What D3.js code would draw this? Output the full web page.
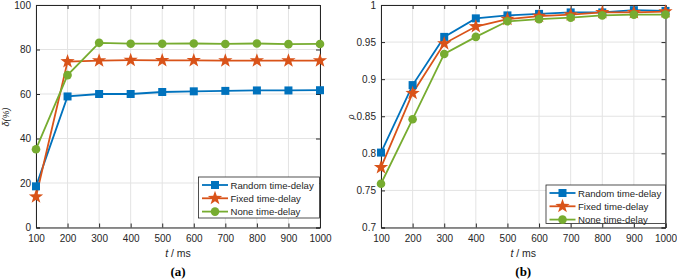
<!DOCTYPE html>
<html>
<head>
<meta charset="utf-8">
<script src="https://cdn.jsdelivr.net/npm/d3@7"></script>
<style>
body{margin:0;background:#fff;}
text{font-family:"Liberation Sans",Arial,sans-serif;}
</style>
</head>
<body>
<div class="content"></div>
<script>
const WIDTH = 677, HEIGHT = 279;

const times = [100,200,300,400,500,600,700,800,900,1000];
const seriesNames = ["Random time-delay","Fixed time-delay","None time-delay"];
const seriesColors = ["#0072BD","#D95319","#77AC30"];

// panel (a): delta (%)
const deltaRandom = [18.5,58.9,60,60,60.9,61.2,61.4,61.6,61.6,61.7];
const deltaFixed  = [13.8,74.6,75,75.2,75.1,75.1,75,75,75,75];
const deltaNone   = [35.2,68.5,83,82.6,82.6,82.7,82.5,82.7,82.4,82.5];
const deltaTicks  = [0,20,40,60,80,100];

// panel (b): rho
const rhoRandom = [0.801,0.892,0.957,0.982,0.986,0.988,0.990,0.990,0.993,0.992];
const rhoFixed  = [0.781,0.881,0.948,0.971,0.981,0.985,0.987,0.990,0.990,0.991];
const rhoNone   = [0.759,0.846,0.934,0.957,0.978,0.981,0.983,0.986,0.987,0.987];
const rhoTicks  = [0.7,0.75,0.8,0.85,0.9,0.95,1];

const svg = d3.select(".content").append("svg").attr("width", WIDTH).attr("height", HEIGHT);

function starPath(r){
	let pts = [];
	for(let i=0;i<10;i++){
		let a = -Math.PI/2 + i*Math.PI/5;
		let rr = i%2===0 ? r : r*0.4;
		pts.push([rr*Math.cos(a), rr*Math.sin(a)]);
	}
	return "M" + pts.map(p=>p.join(",")).join("L") + "Z";
}

function drawMarker(g, idx, x, y){
	if(idx===0){
		g.append("rect").attr("x",x-4).attr("y",y-4).attr("width",8).attr("height",8).attr("fill",seriesColors[0]);
	} else if(idx===1){
		g.append("path").attr("d",starPath(7.5)).attr("transform",`translate(${x},${y})`).attr("fill",seriesColors[1]);
	} else {
		g.append("circle").attr("cx",x).attr("cy",y).attr("r",4.3).attr("fill",seriesColors[2]);
	}
}

function drawPanel(opt){
	const g = svg.append("g");
	const x = d3.scaleLinear().domain([100,1000]).range([opt.left, opt.right]);
	const y = d3.scaleLinear().domain(opt.domain).range([opt.bottom, opt.top]);

	// grid
	g.append("g").selectAll("line").data(times).join("line")
		.attr("x1",d=>x(d)).attr("x2",d=>x(d)).attr("y1",opt.top).attr("y2",opt.bottom)
		.attr("stroke","#e3e3e3").attr("stroke-width",1);
	g.append("g").selectAll("line").data(opt.ticks).join("line")
		.attr("x1",opt.left).attr("x2",opt.right).attr("y1",d=>y(d)).attr("y2",d=>y(d))
		.attr("stroke","#e3e3e3").attr("stroke-width",1);

	// axes
	const xaxis = d3.axisBottom(x).tickValues(times).tickSize(-4).tickPadding(7).tickFormat(d3.format("d"));
	const yaxis = d3.axisLeft(y).tickValues(opt.ticks).tickSize(-4).tickPadding(5).tickFormat(opt.fmt);
	const xg = g.append("g").attr("transform",`translate(0,${opt.bottom})`).call(xaxis);
	const yg = g.append("g").attr("transform",`translate(${opt.left},0)`).call(yaxis);
	const xg2 = g.append("g").attr("transform",`translate(0,${opt.top})`).call(d3.axisTop(x).tickValues(times).tickSize(-4).tickFormat(""));
	const yg2 = g.append("g").attr("transform",`translate(${opt.right},0)`).call(d3.axisRight(y).tickValues(opt.ticks).tickSize(-4).tickFormat(""));
	[xg,yg,xg2,yg2].forEach(a=>{
		a.select(".domain").attr("stroke","#262626");
		a.selectAll(".tick line").attr("stroke","#262626");
		a.selectAll("text").attr("fill","#262626").style("font-size","10px").style("font-family","Liberation Sans, Arial, sans-serif");
	});

	// lines + markers
	opt.series.forEach((vals, i) => {
		const line = d3.line().x((d,j)=>x(times[j])).y(d=>y(d));
		g.append("path").attr("d", line(vals)).attr("fill","none")
			.attr("stroke",seriesColors[i]).attr("stroke-width",1.8);
	});
	opt.series.forEach((vals, i) => {
		const mg = g.append("g");
		vals.forEach((v,j)=>drawMarker(mg, i, x(times[j]), y(v)));
	});

	// legend
	const lg = g.append("g");
	lg.append("rect").attr("x",opt.legend[0]).attr("y",opt.legend[1]).attr("width",opt.legend[2]).attr("height",opt.legend[3])
		.attr("fill","#fff").attr("stroke","#262626").attr("stroke-width",0.8);
	seriesNames.forEach((name,i)=>{
		const ly = opt.legend[1] + 8 + i*13.3;
		const lx = opt.legend[0] + 3.5;
		lg.append("line").attr("x1",lx).attr("x2",lx+26).attr("y1",ly).attr("y2",ly)
			.attr("stroke",seriesColors[i]).attr("stroke-width",1.8);
		drawMarker(lg, i, lx+13, ly);
		lg.append("text").attr("x",lx+28.5).attr("y",ly+3.5).text(name)
			.style("font-size","9.6px").attr("fill","#262626");
	});

	// labels
	const xl = g.append("text").attr("x",(opt.left+opt.right)/2).attr("y",257).attr("text-anchor","middle")
		.style("font-size","10.5px").attr("fill","#262626");
	xl.append("tspan").style("font-style","italic").text("t");
	xl.append("tspan").text(" / ms");
	g.append("text").attr("transform",`translate(${opt.ylabelX},${opt.ylabelY}) rotate(-90)`).attr("text-anchor","middle")
		.style("font-size","9px").attr("fill","#262626").style("font-style","italic").text(opt.ylabel);
	g.append("text").attr("x",(opt.left+opt.right)/2).attr("y",276).attr("text-anchor","middle")
		.style("font-family","Liberation Serif, serif").style("font-weight","bold").style("font-size","13px")
		.text(opt.caption);
}

drawPanel({left:36, right:320, top:5, bottom:227.5, domain:[0,100], ticks:deltaTicks, fmt:d3.format("d"),
	series:[deltaRandom,deltaFixed,deltaNone], legend:[198.5,177,121,41],
	ylabel:"δ(%)", ylabelX:9, ylabelY:117, caption:"(a)"});

drawPanel({left:381, right:665.5, top:5, bottom:227.5, domain:[0.7,1], ticks:rhoTicks, fmt:d=>String(+d.toFixed(2)),
	series:[rhoRandom,rhoFixed,rhoNone], legend:[546,185,119.5,38.5],
	ylabel:"ρ", ylabelX:354, ylabelY:117, caption:"(b)"});
</script>
</body>
</html>
